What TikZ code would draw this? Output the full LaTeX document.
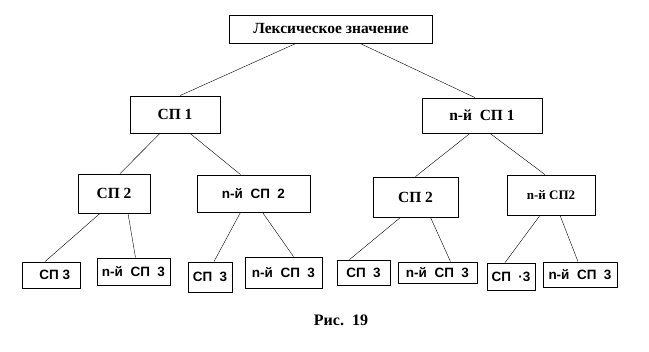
\documentclass[tikz,border=0pt]{standalone}
\usepackage{fontspec}
\setmainfont{Liberation Serif}
\setsansfont{Liberation Sans}
\usetikzlibrary{calc}

\tikzset{
  lvbox/.style={draw, thick, inner sep=0pt, font=\bfseries\fontsize{15.5}{18}\selectfont},
  lwbox/.style={draw, thick, inner sep=0pt, font=\sffamily\bfseries\fontsize{13.5}{16}\selectfont},
  link/.style={thin}
}

\begin{document}
\begin{tikzpicture}[x=1pt, y=-1pt]
\useasboundingbox (0,0) rectangle (649,352);
% top
\node[lvbox, minimum width=203pt, minimum height=28pt] (lex) at (331,29) {Лексическое значение};
% level 1
\node[lvbox, minimum width=90pt, minimum height=37pt] (spa) at (175,114.5) {СП 1};
\node[lvbox, minimum width=120pt, minimum height=35pt] (nspa) at (482,115.5) {n-й\ \ СП 1};
\draw[link] ([xshift=-35pt]lex.south) -- ([xshift=5pt]spa.north);
\draw[link] ([xshift=29pt]lex.south) -- ([xshift=-7pt]nspa.north);
% level 2
\node[lvbox, minimum width=72pt, minimum height=39pt] (spb) at (114,193.5) {СП 2};
\node[lwbox, minimum width=113pt, minimum height=37pt] (nspb) at (253.5,193.5) {n-й\ \ СП\ \ 2};
\node[lvbox, minimum width=85pt, minimum height=40pt] (spc) at (415.5,197) {СП 2};
\node[lvbox, minimum width=88pt, minimum height=40pt] (nspc) at (551,195) {\fontsize{13}{15}\selectfont n-й СП2};
\draw[link] ([xshift=-15pt]spa.south) -- ([xshift=6pt]spb.north);
\draw[link] ([xshift=15pt]spa.south) -- ([xshift=-13pt]nspb.north);
\draw[link] ([xshift=-12pt]nspa.south) -- ([xshift=0pt]spc.north);
\draw[link] ([xshift=8pt]nspa.south) -- ([xshift=-6pt]nspc.north);
% level 3
\node[lwbox, minimum width=58pt, minimum height=26pt] (spd) at (51,275) {\ \ СП 3};
\node[lwbox, minimum width=73pt, minimum height=27pt] (nspd) at (133.5,271.5) {n-й\ \ СП\ \ 3};
\node[lwbox, minimum width=44pt, minimum height=30pt] (spe) at (210,277) {СП\ \ 3};
\node[lwbox, minimum width=77pt, minimum height=31pt] (nspe) at (283.5,272.5) {n-й\ \ СП\ \ 3};
\node[lwbox, minimum width=53pt, minimum height=25pt] (spf) at (363.5,272.5) {СП\ \ 3};
\node[lwbox, minimum width=79pt, minimum height=21pt] (nspf) at (437.5,272.5) {n-й\ \ СП\ \ 3};
\node[lwbox, minimum width=48pt, minimum height=27pt] (spg) at (511,276.5) {СП\ \ ·3};
\node[lwbox, minimum width=74pt, minimum height=25pt] (nspg) at (580,274.5) {n-й\ \ СП\ \ 3};
\draw[link] ([xshift=-14pt]spb.south) -- ([xshift=-6pt]spd.north);
\draw[link] ([xshift=14pt]spb.south) -- ([xshift=2pt]nspd.north);
\draw[link] ([xshift=-13pt]nspb.south) -- ([xshift=4pt]spe.north);
\draw[link] ([xshift=9pt]nspb.south) -- ([xshift=10pt]nspe.north);
\draw[link] ([xshift=-15pt]spc.south) -- ([xshift=-14pt]spf.north);
\draw[link] ([xshift=15pt]spc.south) -- ([xshift=13pt]nspf.north);
\draw[link] ([xshift=-11pt]nspc.south) -- ([xshift=-6pt]spg.north);
\draw[link] ([xshift=9pt]nspc.south) -- ([xshift=-2pt]nspg.north);
% caption
\node[font=\bfseries\fontsize{16}{18}\selectfont] (cap) at (341,320) {Рис.\ \ 19};
\end{tikzpicture}
\end{document}
